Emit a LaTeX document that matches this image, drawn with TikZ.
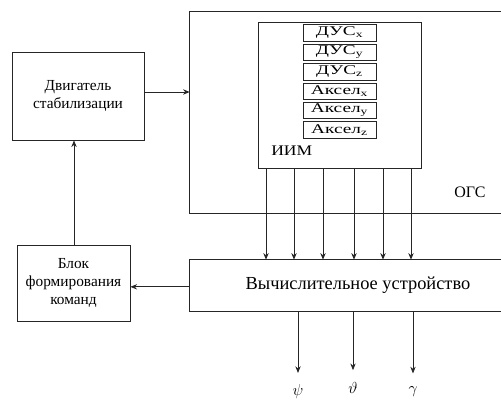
\documentclass[tikz,border=0pt]{standalone}
\usepackage{fontspec}
\setmainfont{LiberationSerif}[Extension=.ttf, UprightFont=*-Regular, BoldFont=*-Bold, ItalicFont=*-Italic]
\newfontfamily\widefont{LiberationSerif}[Extension=.ttf, UprightFont=*-Regular, FakeStretch=1.45]
\newfontfamily\semiwide{LiberationSerif}[Extension=.ttf, UprightFont=*-Regular, FakeStretch=1.2]
\usetikzlibrary{arrows.meta,calc}
\tikzset{
  ln/.style={draw=black!85, line width=0.6pt},
  boxn/.style={ln, inner sep=0pt, align=center, font=\fontsize{11.5}{13.5}\selectfont},
  area/.style={inner sep=0pt},
  sens/.style={ln, inner sep=0pt, minimum width=54.75pt, minimum height=12.4pt, font=\widefont\fontsize{10}{12}\selectfont},
  arr/.style={ln, -{Stealth[length=5pt,width=4pt]}},
  greek/.style={inner sep=1pt, font=\fontsize{11.5}{13}\selectfont}
}
\begin{document}
\begin{tikzpicture}[x=0.75pt, y=-0.75pt]
\useasboundingbox (0,0) rectangle (501,400);
% regions
\node[area, minimum width=233.25pt, minimum height=150.75pt] (ogs) at (345.5,112.5) {};
\draw[ln, line width=0.8pt] (ogs.north east) -- (ogs.north west) -- (ogs.south west) -- (ogs.south east);
\node[area, minimum width=233.25pt, minimum height=38.25pt] (comp) at (345.5,285.5) {};
\draw[ln] (comp.north east) -- (comp.north west) -- (comp.south west) -- (comp.south east);
\node[font=\fontsize{13.8}{16}\selectfont, inner sep=0pt] (comptxt) at (358,285) {Вычислительное устройство};
\node[font=\fontsize{12}{14}\selectfont, inner sep=0pt] (ogslbl) at (470,192) {ОГС};
% IIM
\node[ln, inner sep=0pt, minimum width=122.25pt, minimum height=109.5pt] (iim) at (339.5,95) {};
\node[inner sep=0pt, anchor=west, font=\semiwide\fontsize{11}{13}\selectfont] (iimlbl) at (271,151) {ИИМ};
\node[sens] (s1) at (339.5,33) {ДУС\textsubscript{x}};
\node[sens] (s2) at (339.5,52.4) {ДУС\textsubscript{y}};
\node[sens] (s3) at (339.5,71.8) {ДУС\textsubscript{z}};
\node[sens] (s4) at (339.5,91.2) {Аксел\textsubscript{x}};
\node[sens] (s5) at (339.5,110.6) {Аксел\textsubscript{y}};
\node[sens] (s6) at (339.5,130) {Аксел\textsubscript{z}};
% left blocks
\node[boxn, minimum width=99pt, minimum height=66pt] (dvig) at (78,96) {Двигатель\\стабилизации};
\node[boxn, minimum width=84.75pt, minimum height=57pt] (blok) at (73.5,283) {Блок\\формирования\\команд};
% connectors
\draw[arr] ([yshift=3pt]dvig.east) -- ([yshift=3pt]dvig.east -| ogs.west);
\draw[arr] ([yshift=-1pt]comp.west) -- ([yshift=-1pt]comp.west -| blok.east);
\coordinate (bx) at (74,0);
\draw[arr] (blok.north -| bx) -- (dvig.south -| bx);
\foreach \i/\x in {1/266,2/294,3/323,4/354,5/383,6/411}{
  \coordinate (c\i) at (\x,0);
  \draw[arr] (iim.south -| c\i) -- (comp.north -| c\i);
}
\node[greek] (psi) at (298,391) {$\psi$};
\node[greek] (theta) at (353,388) {$\vartheta$};
\node[greek] (gam) at (413,392) {$\gamma$};
\draw[arr, shorten >=7pt] (comp.south -| psi) -- (psi.north);
\draw[arr, shorten >=8pt] (comp.south -| theta) -- (theta.north);
\draw[arr, shorten >=9pt] (comp.south -| gam) -- (gam.north);
\end{tikzpicture}
\end{document}
